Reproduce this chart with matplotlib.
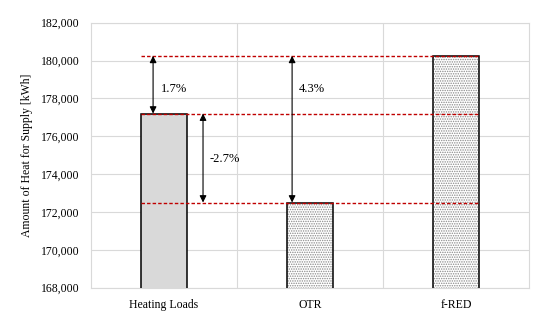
import numpy as np
import matplotlib.pyplot as plt

categories = ['Heating Loads', 'OTR', 'f-RED']
heat_supply = [177200, 172500, 180250]
y_ticks = [168000, 170000, 172000, 174000, 176000, 178000, 180000, 182000]
# (from bar, to bar, label, arrow x, label x, label y)
diffs = [
    (2, 0, '1.7%', -0.075, -0.02, 178500),
    (0, 1, '-2.7%', 0.267, 0.31, 174800),
    (2, 1, '4.3%', 0.877, 0.925, 178500),
]

plt.rcParams['font.family'] = ['Liberation Serif', 'DejaVu Serif']
plt.rcParams['hatch.linewidth'] = 0.7

fig = plt.figure(figsize=(5.5, 3.2), dpi=100)
ax = fig.add_axes([0.1655, 0.101, 0.7965, 0.828])

x = np.arange(len(categories))
width = 0.315

# plain grey bar first, then stippled ones
ax.bar(x[0], heat_supply[0], width, color='#d9d9d9', edgecolor='black', linewidth=1.1, zorder=3)
ax.bar(x[1:], heat_supply[1:], width, color='white', edgecolor='#8a8a8a', hatch='.......', linewidth=0, zorder=3)
ax.bar(x[1:], heat_supply[1:], width, fill=False, edgecolor='black', linewidth=1.1, zorder=4)

# red dashed reference lines
xmin = x[0] - width / 2
xmax = x[-1] + width / 2
for v in heat_supply:
    ax.hlines(v, xmin, xmax, colors='#c00000', linestyles=(0, (2.5, 1.5)), linewidth=1.0, zorder=5)

for a, b, lab, ax_x, lx, ly in diffs:
    ax.annotate('', xy=(ax_x, heat_supply[b]), xytext=(ax_x, heat_supply[a]),
                arrowprops=dict(arrowstyle='<|-|>', color='black', lw=0.8,
                                mutation_scale=10, shrinkA=0, shrinkB=0), zorder=6)
    ax.text(lx, ly, lab, fontsize=9, va='center', ha='left', zorder=6)

ax.set_xlim(-0.5, 2.5)
ax.set_ylim(168000, 182000)
ax.set_xticks(x)
ax.set_xticklabels(categories, fontsize=8.5)
ax.set_xticks([0.5, 1.5], minor=True)
ax.set_yticks(y_ticks)
ax.set_yticklabels([f'{t:,}' for t in y_ticks], fontsize=8.5)
ax.tick_params(axis='both', which='both', length=0, pad=8)
ax.grid(axis='y', color='#d9d9d9', linewidth=0.8, zorder=0)
ax.grid(axis='x', which='minor', color='#d9d9d9', linewidth=0.8, zorder=0)
for s in ax.spines.values():
    s.set_color('#d9d9d9')
    s.set_linewidth(0.8)

ax.set_ylabel('Amount of Heat for Supply [kWh]', fontsize=8.5, labelpad=6)

plt.savefig('out.png', dpi=100)
